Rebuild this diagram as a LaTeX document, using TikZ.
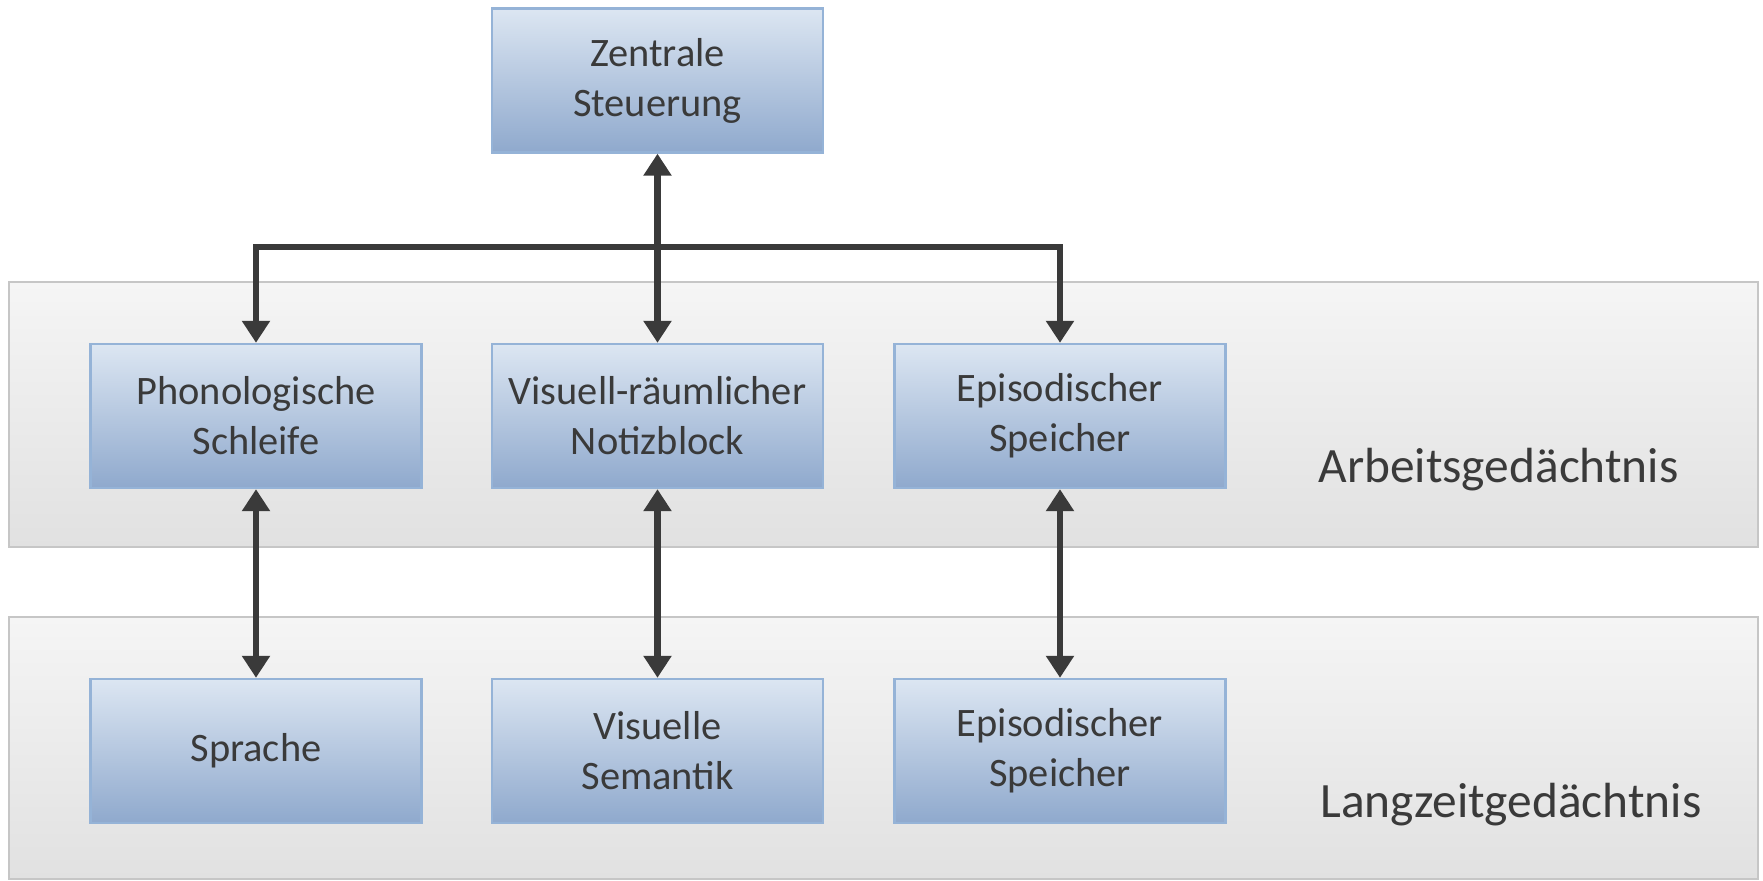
\documentclass[tikz,border=0pt]{standalone}
\usepackage{fontspec}
\setmainfont{Carlito}
\usetikzlibrary{arrows.meta}

\definecolor{boxtop}{HTML}{DCE6F2}
\definecolor{boxbot}{HTML}{8FA9CD}
\definecolor{boxline}{HTML}{95B3D7}
\definecolor{bandtop}{HTML}{F5F5F5}
\definecolor{bandbot}{HTML}{E1E1E1}
\definecolor{bandline}{HTML}{C6C6C6}
\definecolor{ink}{HTML}{3A3A3A}

\tikzset{
  module/.style={draw=boxline, line width=1.2pt, top color=boxtop, bottom color=boxbot,
    minimum width=165.5pt, minimum height=72pt, inner sep=0pt, align=center,
    text=ink, font=\fontsize{20.2pt}{25pt}\selectfont},
  band/.style={draw=bandline, line width=1.4pt, top color=bandtop, bottom color=bandbot},
  bandlabel/.style={anchor=base west, inner sep=0pt, text=ink, font=\fontsize{24.7pt}{30pt}\selectfont},
  link/.style={draw=ink, line width=3.4pt, line join=miter},
  biarrow/.style={link, {Triangle[length=11pt,width=13.5pt]}-{Triangle[length=11pt,width=13.5pt]}}
}

\begin{document}
\begin{tikzpicture}[x=0.5pt, y=-0.5pt]
  \useasboundingbox (0,0) rectangle (1763,881);

  % memory layers
  \path[band] (9,282) rectangle (1758,547);
  \path[band] (9,617) rectangle (1758,879);
  \node[bandlabel] (wm) at (1318,483) {Arbeitsgedächtnis};
  \node[bandlabel] (ltm) at (1320,818) {Langzeitgedächtnis};

  % components
  \node[module] (zs) at (657.5,80.5) {Zentrale\\Steuerung};
  \node[module] (ps) at (256,416) {Phonologische\\Schleife};
  \node[module] (vn) at (657.5,416) {Visuell-räumlicher\\Notizblock};
  \node[module] (es) at (1060,416) {Episodischer\\Speicher};
  \node[module] (sp) at (256,751) {Sprache};
  \node[module] (vs) at (657.5,751) {Visuelle\\Semantik};
  \node[module] (el) at (1060,751) {Episodischer\\Speicher};

  % central executive links
  \coordinate (hl) at (256,247);
  \coordinate (hr) at (1060,247);
  \draw[biarrow] (ps.north) -- (hl) -- (hr) -- (es.north);
  \draw[biarrow] (zs.south) -- (vn.north);

  % working memory to long-term memory
  \draw[biarrow] (ps.south) -- (sp.north);
  \draw[biarrow] (vn.south) -- (vs.north);
  \draw[biarrow] (es.south) -- (el.north);
\end{tikzpicture}
\end{document}
